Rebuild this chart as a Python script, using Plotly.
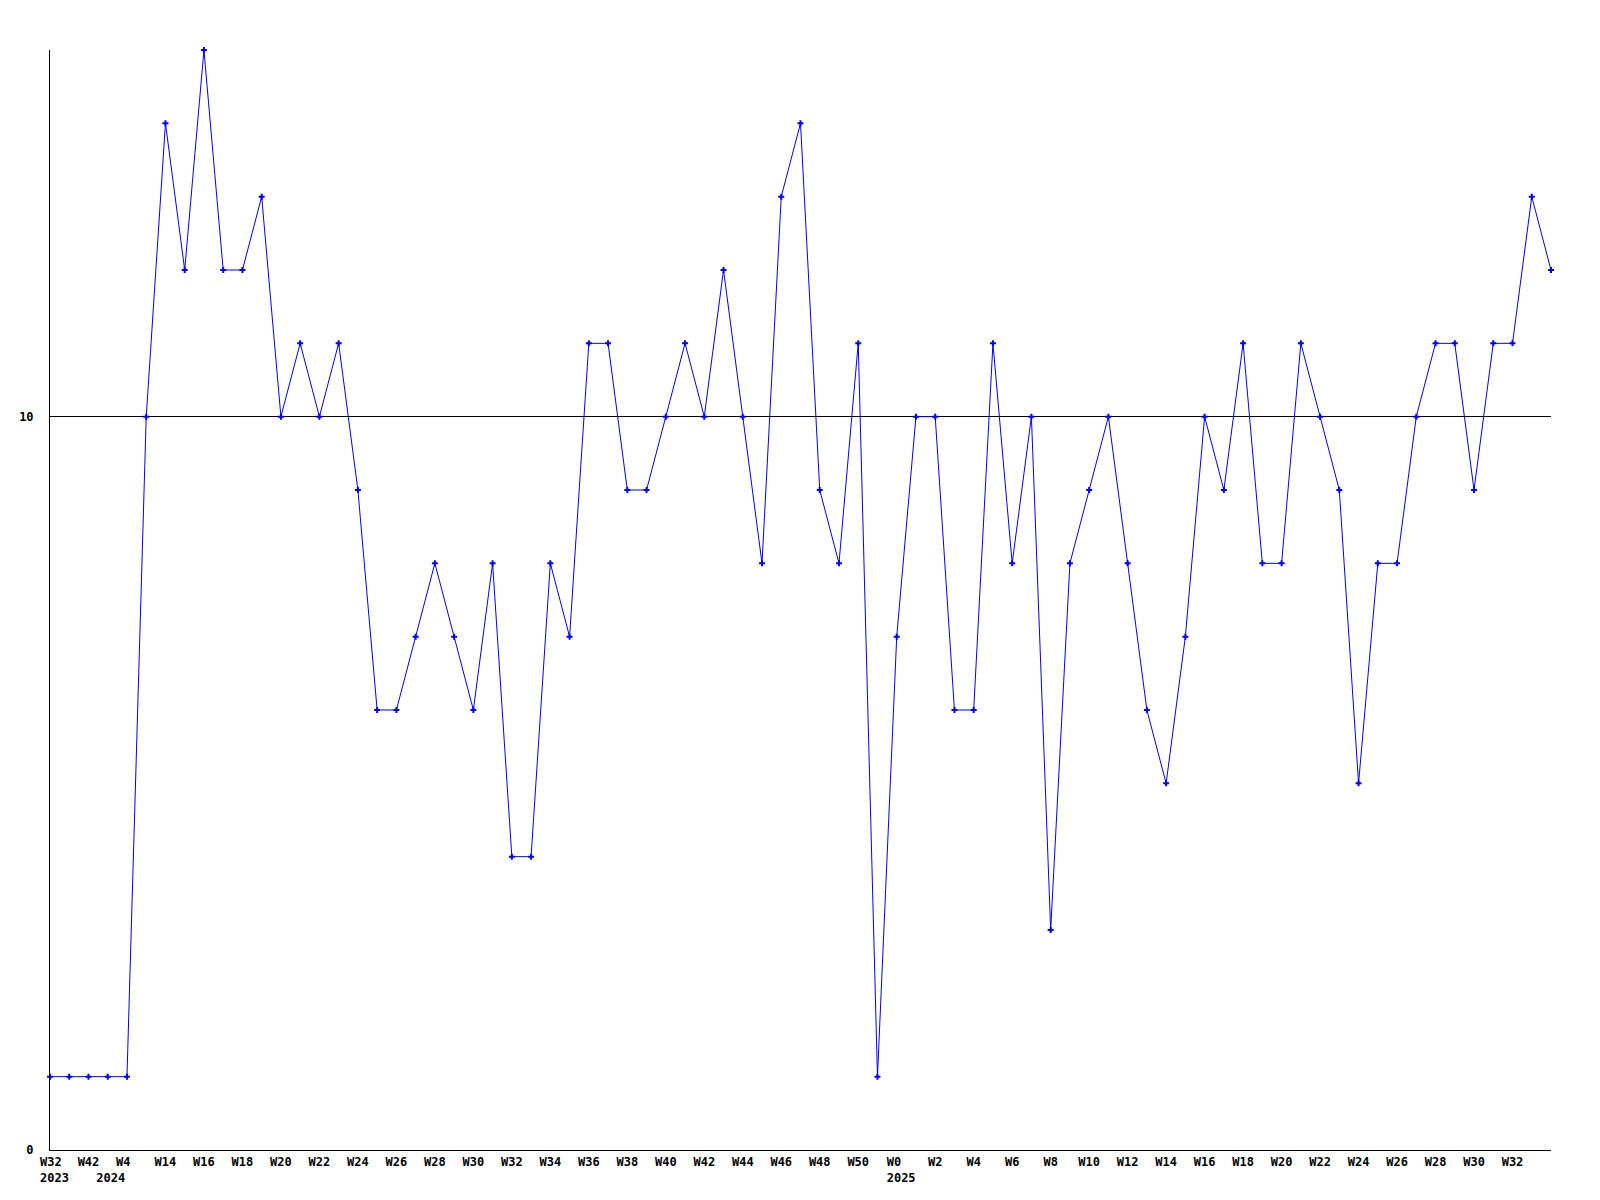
import plotly.graph_objects as go

NBSP = "\u00a0"

# Week labels for each data point (odd early ones are estimated, not shown)
weeks = ["W32", "W37", "W42", "W47", "W4", "W9", "W14", "W15", "W16", "W17",
         "W18", "W19", "W20", "W21", "W22", "W23", "W24", "W25", "W26", "W27",
         "W28", "W29", "W30", "W31", "W32", "W33", "W34", "W35", "W36", "W37",
         "W38", "W39", "W40", "W41", "W42", "W43", "W44", "W45", "W46", "W47",
         "W48", "W49", "W50", "W51", "W0", "W1", "W2", "W3", "W4", "W5",
         "W6", "W7", "W8", "W9", "W10", "W11", "W12", "W13", "W14", "W15",
         "W16", "W17", "W18", "W19", "W20", "W21", "W22", "W23", "W24", "W25",
         "W26", "W27", "W28", "W29", "W30", "W31", "W32", "W33", "W34"]

values = [1, 1, 1, 1, 1, 10, 14, 12, 15, 12,
          12, 13, 10, 11, 10, 11, 9, 6, 6, 7,
          8, 7, 6, 8, 4, 4, 8, 7, 11, 11,
          9, 9, 10, 11, 10, 12, 10, 8, 13, 14,
          9, 8, 11, 1, 7, 10, 10, 6, 6, 11,
          8, 10, 3, 8, 9, 10, 8, 6, 5, 7,
          10, 9, 11, 8, 8, 11, 10, 9, 5, 8,
          8, 10, 11, 11, 9, 11, 11, 13, 12]

# Irregular x-axis labels of the original (label text, position on the index axis)
special_tick_labels = ["W32" + NBSP + "<br>2023", "W42", NBSP + "<br>2024", "W4",
                       "W0" + NBSP * 2 + "<br>2025"]
special_tick_pos = [0.23, 2, 3.16, 3.8, 44.23]

y_ticks = [0, 10]

x_idx = list(range(len(values)))
reg_idx = [i for i in range(6, len(values) - 1, 2) if i != 44]
tick_vals = special_tick_pos + reg_idx
tick_text = special_tick_labels + [weeks[i] for i in reg_idx]

fig = go.Figure()
fig.add_trace(go.Scatter(
    x=x_idx, y=values, mode="lines+markers",
    line=dict(color="#0000FF", width=1),
    marker=dict(symbol="cross", size=5, color="#0000FF", line=dict(width=0)),
    text=weeks, hoverinfo="text+y", cliponaxis=False,
))

font = dict(family="DejaVu Sans Mono", size=12, color="black", weight="bold")

fig.update_layout(
    width=1600, height=1200,
    margin=dict(l=42, r=57, t=42, b=58, autoexpand=False),
    paper_bgcolor="white", plot_bgcolor="white",
    showlegend=False,
    font=font,
)
fig.update_xaxes(
    range=[0, len(values) - 1],
    tickmode="array", tickvals=tick_vals, ticktext=tick_text,
    showgrid=False, zeroline=False,
    showline=True, linecolor="black", linewidth=1,
    ticks="", tickfont=font, tickangle=0, automargin=False,
    ticklabelstandoff=1,
)
fig.update_yaxes(
    range=[0, 15],
    tickmode="array", tickvals=y_ticks, ticktext=[str(v) for v in y_ticks],
    showgrid=True, gridcolor="black", gridwidth=1,
    zeroline=False,
    showline=True, linecolor="black", linewidth=1,
    ticks="", tickfont=font, ticklabelstandoff=13, automargin=False,
)

fig.write_html("out.html")
